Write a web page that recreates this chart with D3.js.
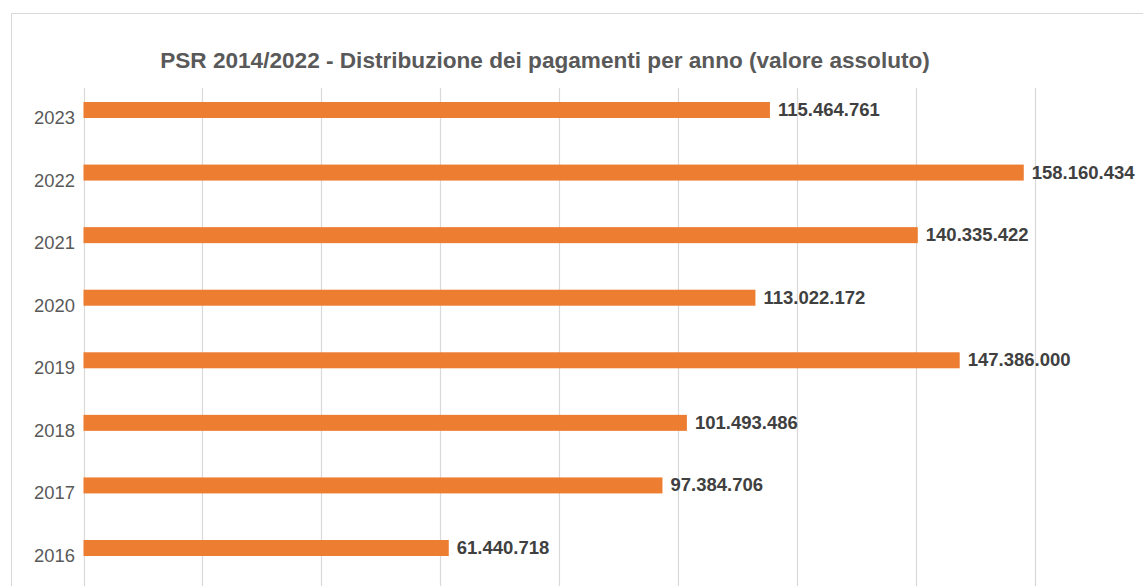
<!DOCTYPE html>
<html><head><meta charset="utf-8">
<script src="https://cdn.jsdelivr.net/npm/d3@7"></script>
<style>html,body{margin:0;padding:0;background:#fff;overflow:hidden}</style>
</head><body>
<svg id="c" width="1143" height="586"></svg>
<script>
const years = ["2023","2022","2021","2020","2019","2018","2017","2016"];
const values = [115464761,158160434,140335422,113022172,147386000,101493486,97384706,61440718];
const gridTicks = [0,20000000,40000000,60000000,80000000,100000000,120000000,140000000,160000000,180000000];
const title = "PSR 2014/2022 - Distribuzione dei pagamenti per anno (valore assoluto)";

const svg = d3.select("#c");
const fmt = d3.formatLocale({decimal:",",thousands:".",grouping:[3],currency:["€",""]}).format(",d");

// frame
svg.append("rect").attr("x",11.5).attr("y",13.5).attr("width",1200).attr("height",700)
  .attr("fill","#fff").attr("stroke","#d9d9d9").attr("stroke-width",1);

const x = d3.scaleLinear().domain([0,180000000]).range([83.5,83.5+9*118.9]);
const y = d3.scalePoint().domain(years).range([110,548]);

// gridlines
svg.append("g").selectAll("line").data(gridTicks).join("line")
  .attr("x1",d=>Math.round(x(d))+0.5).attr("x2",d=>Math.round(x(d))+0.5)
  .attr("y1",88).attr("y2",600)
  .attr("stroke","#d9d9d9").attr("stroke-width",1.2);

// bars
svg.append("g").selectAll("rect").data(years).join("rect")
  .attr("x",x(0)).attr("y",d=>y(d)-8)
  .attr("width",(d,i)=>x(values[i])-x(0)).attr("height",16)
  .attr("fill","#ED7D31");

// value labels
const vl = svg.append("g").selectAll("text").data(years).join("text")
  .attr("x",(d,i)=>x(values[i])+8).attr("y",d=>y(d)+6)
  .attr("font-family","Liberation Sans, Arial, sans-serif").attr("font-weight","bold")
  .attr("font-size",17).attr("fill","#404040")
  .text((d,i)=>fmt(values[i]));
const w0 = vl.nodes()[1].getComputedTextLength();
vl.attr("font-size",17*105/w0*0.98);

// year labels
const yl = svg.append("g").selectAll("text").data(years).join("text")
  .attr("x",75).attr("y",d=>y(d)+14).attr("text-anchor","end")
  .attr("font-family","Liberation Sans, Arial, sans-serif")
  .attr("font-size",17).attr("fill","#595959")
  .text(d=>d);
const yw = yl.nodes()[0].getComputedTextLength();
yl.attr("font-size",17*41/yw);

// title
const t = svg.append("text").attr("x",545).attr("y",68).attr("text-anchor","middle")
  .attr("font-family","Liberation Sans, Arial, sans-serif").attr("font-weight","bold")
  .attr("font-size",20).attr("fill","#595959").text(title);
const tw = t.node().getComputedTextLength();
t.attr("font-size",20*770/tw);
</script>
</body></html>
